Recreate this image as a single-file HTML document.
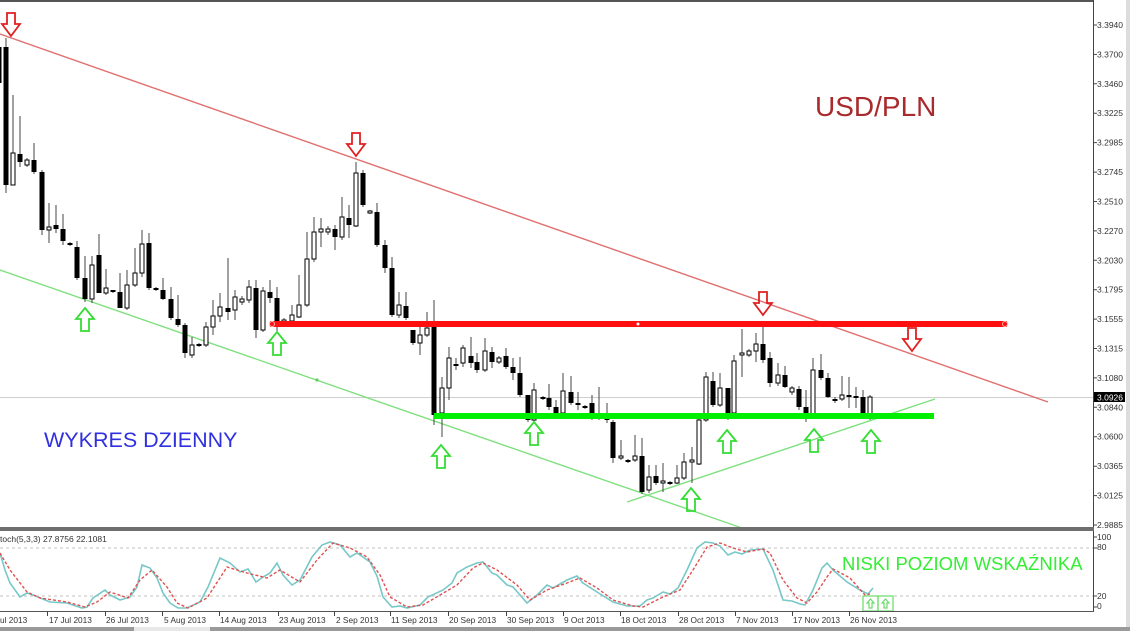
<!DOCTYPE html>
<html><head><meta charset="utf-8"><style>
html,body{margin:0;padding:0;background:#fff;}
svg{display:block;}
text{font-family:"Liberation Sans",Arial,sans-serif;}
</style></head><body>
<svg width="1130" height="631" viewBox="0 0 1130 631" xmlns="http://www.w3.org/2000/svg">
<rect x="0" y="0" width="1130" height="631" fill="#fff"/>
<rect x="1126" y="0" width="4" height="631" fill="#dcdcdc"/>
<rect x="0" y="0" width="1093" height="2" fill="#555"/>
<line x1="0" y1="397.5" x2="1093" y2="397.5" stroke="#cfcfcf" stroke-width="1"/>
<line x1="0" y1="34" x2="1048" y2="402" stroke="#e07070" stroke-width="1.4"/>
<line x1="0" y1="270" x2="742" y2="528" stroke="#80e080" stroke-width="1.4"/>
<line x1="627" y1="502" x2="935" y2="399" stroke="#80e080" stroke-width="1.4"/>
<circle cx="317" cy="380" r="1.6" fill="#60d060"/>
<path fill="none" stroke="#444" stroke-width="1" d="M-1 40V88 M6 38V193 M13 95V185 M20 116V167 M27 158V167 M34 143V174 M42 170V235 M49 203V243 M56 205V233 M63 214V245 M70 242V246 M77 241V280 M85 256V302 M92 256V303 M99 234V293 M106 269V295 M113 290V293 M120 273V308 M127 270V310 M135 248V287 M142 230V277 M149 233V290 M156 287V291 M163 278V300 M171 287V320 M178 295V327 M185 323V358 M192 337V358 M199 343V347 M206 322V347 M213 300V335 M220 293V322 M228 258V320 M235 290V320 M242 296V305 M249 280V303 M256 280V338 M263 287V332 M270 280V303 M277 287V332 M284 318V325 M292 305V322 M299 275V318 M307 232V307 M314 217V262 M321 218V247 M328 226V235 M335 225V250 M342 197V240 M349 205V238 M356 162V227 M363 170V207 M370 210V214 M377 203V247 M385 240V273 M392 257V317 M399 292V318 M406 292V320 M413 330V345 M420 327V355 M427 312V337 M434 300V425 M442 377V437 M449 347V400 M456 358V370 M463 345V367 M471 337V368 M477 353V373 M485 338V372 M492 347V368 M499 356V364 M506 348V369 M513 358V380 M520 357V397 M528 395V422 M534 383V422 M543 396V400 M549 384V410 M556 400V418 M563 373V417 M571 376V405 M578 392V410 M585 405V409 M592 395V420 M599 387V420 M607 403V423 M613 420V463 M621 440V460 M628 459V463 M635 435V462 M642 438V494 M649 465V493 M656 465V485 M663 463V492 M670 481V485 M677 465V484 M684 453V480 M692 447V483 M699 413V465 M706 372V422 M713 372V407 M720 373V407 M728 388V420 M734 355V415 M742 329V377 M749 349V357 M756 333V362 M763 327V363 M770 352V387 M778 363V386 M785 366V388 M792 386V395 M799 386V410 M806 390V422 M813 358V417 M821 354V380 M828 373V398 M835 397V403 M842 376V401 M849 377V408 M856 387V408 M863 390V415 M870 395V420"/>
<g fill="#000">
<rect x="-3.5" y="47" width="5" height="36"/>
<rect x="3.5" y="47" width="5" height="138"/>
<rect x="17.5" y="154" width="5" height="8"/>
<rect x="31.5" y="160" width="5" height="12"/>
<rect x="39.5" y="172" width="5" height="58"/>
<rect x="53.5" y="225" width="5" height="4"/>
<rect x="60.5" y="229" width="5" height="12"/>
<rect x="67.5" y="243" width="5" height="2"/>
<rect x="74.5" y="247" width="5" height="31"/>
<rect x="82.5" y="278" width="5" height="21"/>
<rect x="96.5" y="255" width="5" height="38"/>
<rect x="110.5" y="290" width="5" height="2"/>
<rect x="117.5" y="292" width="5" height="16"/>
<rect x="146.5" y="243" width="5" height="45"/>
<rect x="153.5" y="288" width="5" height="2"/>
<rect x="160.5" y="290" width="5" height="9"/>
<rect x="168.5" y="299" width="5" height="19"/>
<rect x="175.5" y="319" width="5" height="6"/>
<rect x="182.5" y="325" width="5" height="28"/>
<rect x="196.5" y="344" width="5" height="2"/>
<rect x="225.5" y="308" width="5" height="4"/>
<rect x="253.5" y="288" width="5" height="42"/>
<rect x="267.5" y="292" width="5" height="6"/>
<rect x="274.5" y="298" width="5" height="27"/>
<rect x="332.5" y="229" width="5" height="8"/>
<rect x="346.5" y="218" width="5" height="7"/>
<rect x="360.5" y="173" width="5" height="32"/>
<rect x="374.5" y="212" width="5" height="33"/>
<rect x="382.5" y="245" width="5" height="23"/>
<rect x="389.5" y="268" width="5" height="47"/>
<rect x="403.5" y="306" width="5" height="12"/>
<rect x="410.5" y="330" width="5" height="13"/>
<rect x="431.5" y="327" width="5" height="88"/>
<rect x="453.5" y="364" width="5" height="2"/>
<rect x="468.5" y="356" width="5" height="7"/>
<rect x="474.5" y="362" width="5" height="8"/>
<rect x="489.5" y="352" width="5" height="10"/>
<rect x="503.5" y="356" width="5" height="11"/>
<rect x="510.5" y="367" width="5" height="6"/>
<rect x="517.5" y="373" width="5" height="22"/>
<rect x="525.5" y="395" width="5" height="25"/>
<rect x="540.5" y="397" width="5" height="2"/>
<rect x="546.5" y="398" width="5" height="9"/>
<rect x="553.5" y="407" width="5" height="6"/>
<rect x="568.5" y="392" width="5" height="11"/>
<rect x="575.5" y="403" width="5" height="2"/>
<rect x="582.5" y="406" width="5" height="2"/>
<rect x="589.5" y="403" width="5" height="10"/>
<rect x="596.5" y="414" width="5" height="2"/>
<rect x="604.5" y="414" width="5" height="6"/>
<rect x="610.5" y="422" width="5" height="36"/>
<rect x="625.5" y="460" width="5" height="2"/>
<rect x="639.5" y="456" width="5" height="36"/>
<rect x="653.5" y="476" width="5" height="7"/>
<rect x="667.5" y="482" width="5" height="2"/>
<rect x="710.5" y="381" width="5" height="24"/>
<rect x="725.5" y="388" width="5" height="25"/>
<rect x="760.5" y="344" width="5" height="16"/>
<rect x="767.5" y="358" width="5" height="25"/>
<rect x="782.5" y="375" width="5" height="12"/>
<rect x="796.5" y="389" width="5" height="18"/>
<rect x="803.5" y="407" width="5" height="10"/>
<rect x="818.5" y="370" width="5" height="8"/>
<rect x="825.5" y="378" width="5" height="19"/>
<rect x="832.5" y="399" width="5" height="2"/>
<rect x="846.5" y="395" width="5" height="2"/>
<rect x="853.5" y="396" width="5" height="2"/>
<rect x="860.5" y="397" width="5" height="16"/>
</g>
<g fill="#fff" stroke="#000" stroke-width="1">
<rect x="11" y="153" width="4" height="32"/>
<rect x="25" y="160" width="4" height="5"/>
<rect x="47" y="227" width="4" height="3"/>
<rect x="90" y="265" width="4" height="34"/>
<rect x="104" y="288" width="4" height="5"/>
<rect x="125" y="285" width="4" height="23"/>
<rect x="133" y="273" width="4" height="12"/>
<rect x="140" y="244" width="4" height="29"/>
<rect x="190" y="345" width="4" height="10"/>
<rect x="204" y="327" width="4" height="18"/>
<rect x="211" y="316" width="4" height="11"/>
<rect x="218" y="307" width="4" height="9"/>
<rect x="233" y="297" width="4" height="13"/>
<rect x="240" y="299" width="4" height="3"/>
<rect x="247" y="287" width="4" height="13"/>
<rect x="261" y="291" width="4" height="39"/>
<rect x="282" y="320" width="4" height="3"/>
<rect x="290" y="315" width="4" height="6"/>
<rect x="297" y="305" width="4" height="12"/>
<rect x="305" y="259" width="4" height="46"/>
<rect x="312" y="232" width="4" height="27"/>
<rect x="319" y="229" width="4" height="3"/>
<rect x="326" y="229" width="4" height="3"/>
<rect x="340" y="217" width="4" height="20"/>
<rect x="354" y="173" width="4" height="53"/>
<rect x="368" y="211" width="4" height="2"/>
<rect x="397" y="305" width="4" height="10"/>
<rect x="418" y="335" width="4" height="8"/>
<rect x="425" y="328" width="4" height="7"/>
<rect x="440" y="388" width="4" height="25"/>
<rect x="447" y="358" width="4" height="30"/>
<rect x="461" y="348" width="4" height="15"/>
<rect x="483" y="351" width="4" height="19"/>
<rect x="497" y="358" width="4" height="4"/>
<rect x="532" y="390" width="4" height="30"/>
<rect x="561" y="391" width="4" height="22"/>
<rect x="619" y="456" width="4" height="2"/>
<rect x="633" y="456" width="4" height="4"/>
<rect x="647" y="477" width="4" height="13"/>
<rect x="661" y="481" width="4" height="2"/>
<rect x="675" y="478" width="4" height="5"/>
<rect x="682" y="462" width="4" height="16"/>
<rect x="690" y="460" width="4" height="2"/>
<rect x="697" y="420" width="4" height="44"/>
<rect x="704" y="377" width="4" height="43"/>
<rect x="718" y="388" width="4" height="17"/>
<rect x="732" y="361" width="4" height="52"/>
<rect x="740" y="353" width="4" height="2"/>
<rect x="747" y="351" width="4" height="4"/>
<rect x="754" y="344" width="4" height="7"/>
<rect x="776" y="375" width="4" height="8"/>
<rect x="790" y="388" width="4" height="4"/>
<rect x="811" y="370" width="4" height="47"/>
<rect x="840" y="395" width="4" height="4"/>
<rect x="868" y="397" width="4" height="18"/>
</g>
<rect x="270" y="321" width="737" height="6" fill="#ff1010"/>
<circle cx="638" cy="324" r="1.5" fill="#fff"/>
<circle cx="272" cy="324" r="2.5" fill="none" stroke="#ffb0b0" stroke-width="1"/>
<circle cx="1005" cy="324" r="2.5" fill="none" stroke="#ffb0b0" stroke-width="1"/>
<rect x="434" y="413" width="500" height="6" fill="#00ee00"/>
<g fill="none" stroke="#e02020" stroke-width="1.8" stroke-linejoin="miter">
<path d="M7 13H15V24H20L11 36L2 24H7Z"/>
<path d="M352 133H360V144H365L356 156L347 144H352Z"/>
<path d="M759 292H767V303H772L763 315L754 303H759Z"/>
<path d="M908 328H916V339H921L912 351L903 339H908Z"/>
</g>
<g fill="none" stroke="#33dd33" stroke-width="1.8">
<path d="M85 308L94 319H89V331H81V319H76Z"/>
<path d="M277 332L286 343H281V355H273V343H268Z"/>
<path d="M441 445L450 456H445V468H437V456H432Z"/>
<path d="M534 422L543 433H538V445H530V433H525Z"/>
<path d="M691 488L700 499H695V511H687V499H682Z"/>
<path d="M727 430L736 441H731V453H723V441H718Z"/>
<path d="M814 429L823 440H818V452H810V440H805Z"/>
<path d="M871 430L880 441H875V453H867V441H862Z"/>
</g>
<text x="815" y="116" font-size="28" fill="#a82a2c">USD/PLN</text>
<text x="44" y="447" font-size="21.5" fill="#3030e0">WYKRES DZIENNY</text>
<line x1="1093.5" y1="0" x2="1093.5" y2="612" stroke="#444" stroke-width="1"/>
<g stroke="#444" stroke-width="1">
<path d="M1093 25H1097M1093 54.4H1097M1093 83.8H1097M1093 113.2H1097M1093 142.6H1097M1093 172.1H1097M1093 201.5H1097M1093 230.9H1097M1093 260.3H1097M1093 289.7H1097M1093 319.1H1097M1093 348.5H1097M1093 377.9H1097M1093 407.3H1097M1093 436.7H1097M1093 466.2H1097M1093 495.6H1097M1093 525H1097"/>
</g>
<g font-size="8.5" fill="#333">
<text x="1097" y="28">3.3940</text>
<text x="1097" y="57.4">3.3700</text>
<text x="1097" y="86.8">3.3460</text>
<text x="1097" y="116.2">3.3225</text>
<text x="1097" y="145.6">3.2985</text>
<text x="1097" y="175.1">3.2745</text>
<text x="1097" y="204.5">3.2510</text>
<text x="1097" y="233.9">3.2270</text>
<text x="1097" y="263.3">3.2030</text>
<text x="1097" y="292.7">3.1795</text>
<text x="1097" y="322.1">3.1555</text>
<text x="1097" y="351.5">3.1315</text>
<text x="1097" y="380.9">3.1080</text>
<text x="1097" y="410.3">3.0840</text>
<text x="1097" y="439.7">3.0600</text>
<text x="1097" y="469.2">3.0365</text>
<text x="1097" y="498.6">3.0125</text>
<text x="1097" y="528">2.9885</text>
</g>
<rect x="1094" y="392" width="31" height="10" fill="#000"/>
<text x="1097" y="400.5" font-size="8.5" fill="#fff">3.0926</text>
<rect x="0" y="527" width="1094" height="4" fill="#6e6e6e"/>
<line x1="0" y1="548" x2="1093" y2="548" stroke="#c0c0c0" stroke-width="1" stroke-dasharray="3,3"/>
<line x1="0" y1="596" x2="1093" y2="596" stroke="#c0c0c0" stroke-width="1" stroke-dasharray="3,3"/>
<text x="0" y="542" font-size="8.5" fill="#333">toch(5,3,3) 27.8756 22.1081</text>
<polyline fill="none" stroke="#78c8c8" stroke-width="1.6" points="0,553 5,570 10,583 20,597 27,593 33,595 50,602 67,603 82,608 87,607 93,598 105,590 110,595 120,600 130,597 137,587 142,565 150,568 157,578 163,593 170,603 178,608 187,608 200,602 208,587 220,558 230,563 240,572 248,569 256,582 263,577 270,573 277,563 283,575 292,585 300,580 312,557 322,545 330,542 340,545 350,557 357,553 370,562 377,576 383,597 392,607 400,606 407,608 420,605 428,597 443,590 452,583 457,573 467,567 477,563 483,562 492,573 497,575 507,585 513,587 527,603 537,595 547,585 553,588 567,580 577,576 583,583 597,592 613,602 627,606 640,606 647,600 653,598 663,592 670,594 678,588 687,570 697,548 705,542 713,543 720,546 728,555 735,552 742,554 750,550 763,549 773,570 783,600 792,601 800,604 805,605 813,590 822,568 827,563 833,570 847,582 860,590 868,594 873,588"/>
<polyline fill="none" stroke="#e05050" stroke-width="1.4" stroke-dasharray="3,2" points="0,553 10,570 27,592 40,598 67,602 85,607 97,602 110,592 128,598 140,580 152,570 167,587 177,603 188,608 207,598 227,567 247,573 267,578 280,570 300,582 317,560 333,543 350,548 367,557 380,575 390,597 407,607 423,605 440,595 457,585 473,568 483,563 497,570 517,585 530,600 547,590 567,583 580,578 597,588 613,600 633,606 643,607 663,597 680,590 693,570 707,547 720,543 733,548 747,552 763,549 770,553 783,580 797,598 807,603 817,592 827,577 833,569 850,578 865,595 870,594"/>
<g fill="none" stroke="#66dd66" stroke-width="1.2">
<rect x="863" y="596" width="15" height="15"/>
<rect x="878" y="596" width="15" height="15"/>
<path d="M870.5 599L874 603H872V608H869V603H867Z"/>
<path d="M885.5 599L889 603H887V608H884V603H882Z"/>
</g>
<text x="842" y="570" font-size="18.5" fill="#33ee33">NISKI POZIOM WSKAŹNIKA</text>
<g font-size="8.5" fill="#333">
<text x="1097" y="540">100</text>
<text x="1097" y="550">80</text>
<text x="1097" y="599">20</text>
<text x="1097" y="609">0</text>
</g>
<path d="M1093 537H1097M1093 548H1097M1093 596H1097M1093 607H1097" stroke="#444" stroke-width="1"/>
<line x1="0" y1="611.5" x2="1094" y2="611.5" stroke="#555" stroke-width="1"/>
<path stroke="#444" stroke-width="1" d="M47.5 611V616M105.5 611V616M162.5 611V616M219.5 611V616M278.5 611V616M334.5 611V616M390.5 611V616M448.5 611V616M506.5 611V616M563.5 611V616M620.5 611V616M678.5 611V616M735.5 611V616M792.5 611V616M849.5 611V616"/>
<g font-size="8.3" fill="#333">
<text x="0" y="623">ul 2013</text>
<text x="49" y="623">17 Jul 2013</text>
<text x="106" y="623">26 Jul 2013</text>
<text x="164" y="623">5 Aug 2013</text>
<text x="220" y="623">14 Aug 2013</text>
<text x="279" y="623">23 Aug 2013</text>
<text x="336" y="623">2 Sep 2013</text>
<text x="391" y="623">11 Sep 2013</text>
<text x="449" y="623">20 Sep 2013</text>
<text x="507" y="623">30 Sep 2013</text>
<text x="564" y="623">9 Oct 2013</text>
<text x="621" y="623">18 Oct 2013</text>
<text x="679" y="623">28 Oct 2013</text>
<text x="736" y="623">7 Nov 2013</text>
<text x="793" y="623">17 Nov 2013</text>
<text x="850" y="623">26 Nov 2013</text>
</g>
<rect x="0" y="627" width="1130" height="4" fill="#9a9a9a"/>
<rect x="134" y="627" width="76" height="4" fill="#e8e8e8"/>
</svg>
</body></html>
